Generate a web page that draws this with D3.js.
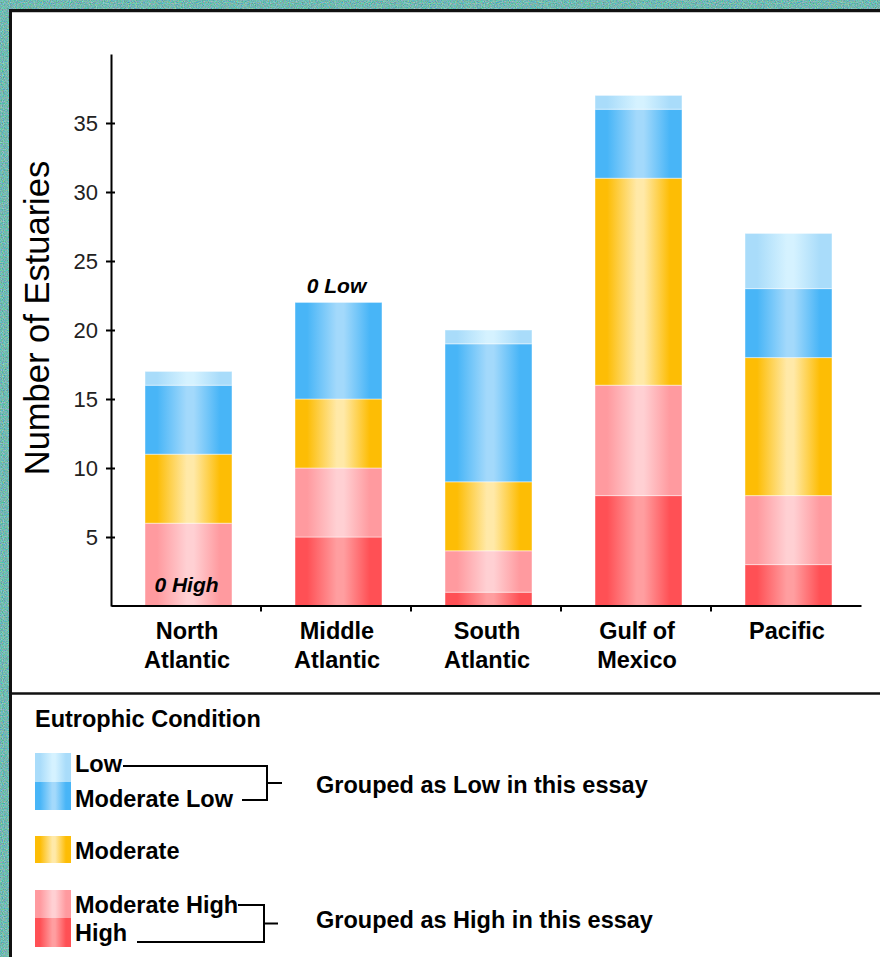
<!DOCTYPE html>
<html>
<head>
<meta charset="utf-8">
<script src="https://cdn.jsdelivr.net/npm/d3@7"></script>
<style>
  html, body { margin: 0; padding: 0; background: #fff; }
  svg { display: block; }
</style>
</head>
<body>
<svg id="chart" width="880" height="957"></svg>
<script>
// Estuaries by eutrophic condition, per region
const categories = ["North Atlantic", "Middle Atlantic", "South Atlantic", "Gulf of Mexico", "Pacific"];
const categoryLines = [["North", "Atlantic"], ["Middle", "Atlantic"], ["South", "Atlantic"], ["Gulf of", "Mexico"], ["Pacific"]];

const high         = [0, 5, 1, 8, 3];
const moderateHigh = [6, 5, 3, 8, 5];
const moderate     = [5, 5, 5, 15, 10];
const moderateLow  = [5, 7, 10, 5, 5];
const low          = [1, 0, 1, 1, 4];

const seriesKeys   = ["High", "Moderate High", "Moderate", "Moderate Low", "Low"];
const seriesValues = [high, moderateHigh, moderate, moderateLow, low];

const yTicks = [5, 10, 15, 20, 25, 30, 35];
const yMax = 40;

const yLabel = "Number of Estuaries";
const legendTitle = "Eutrophic Condition";
const groupNotes = ["Grouped as Low in this essay", "Grouped as High in this essay"];

// cylinder-like shading: saturated edges, pale centre
const shades = {
  "Low":           ["#a9dcfa", "#d5f2ff"],
  "Moderate Low":  ["#48b5f7", "#a3d9fb"],
  "Moderate":      ["#fdbd05", "#ffe9a8"],
  "Moderate High": ["#ff9a9f", "#ffd0d3"],
  "High":          ["#ff5055", "#ff9ea0"]
};

const table = categories.map((c, i) => {
  const row = { category: c };
  seriesKeys.forEach((k, j) => row[k] = seriesValues[j][i]);
  return row;
});

const svg = d3.select("#chart");
const W = 880, H = 957;

// ---- frame ----
const defs = svg.append("defs");
const grain = defs.append("filter").attr("id", "grain")
  .attr("x", 0).attr("y", 0).attr("width", "100%").attr("height", "100%")
  .attr("color-interpolation-filters", "sRGB");
grain.append("feTurbulence").attr("type", "fractalNoise")
  .attr("baseFrequency", 0.85).attr("numOctaves", 2).attr("seed", 7).attr("result", "n");
grain.append("feColorMatrix").attr("in", "n").attr("type", "matrix")
  .attr("values", "0.7 0 0 0 0.10  0 0.45 0 0 0.50  0 0 0.55 0 0.42  0 0 0 0 1");

svg.append("rect").attr("width", W).attr("height", H).attr("fill", "#fff");
svg.append("rect").attr("x", 0).attr("y", 0).attr("width", W).attr("height", 10).attr("filter", "url(#grain)");
svg.append("rect").attr("x", 0).attr("y", 0).attr("width", 10).attr("height", H).attr("filter", "url(#grain)");
svg.append("line").attr("x1", 9).attr("x2", W).attr("y1", 10.5).attr("y2", 10.5)
  .attr("stroke", "#111").attr("stroke-width", 3);
svg.append("line").attr("x1", 10.5).attr("x2", 10.5).attr("y1", 9).attr("y2", H)
  .attr("stroke", "#111").attr("stroke-width", 3);
svg.append("line").attr("x1", 12).attr("x2", W).attr("y1", 12.5).attr("y2", 12.5)
  .attr("stroke", "#c8c8c8").attr("stroke-width", 1);
// divider between plot and legend
svg.append("line").attr("x1", 10).attr("x2", W).attr("y1", 693.5).attr("y2", 693.5)
  .attr("stroke", "#111").attr("stroke-width", 2.5);

// ---- gradients ----
seriesKeys.forEach((k, i) => {
  const g = defs.append("linearGradient").attr("id", "shade" + i)
    .attr("x1", 0).attr("x2", 1).attr("y1", 0).attr("y2", 0);
  const [edge, mid] = shades[k];
  [[0, edge], [0.14, edge], [0.48, mid], [0.56, mid], [0.86, edge], [1, edge]].forEach(([o, c]) =>
    g.append("stop").attr("offset", o).attr("stop-color", c));
});

// ---- scales ----
const plot = { left: 111, right: 861, top: 54, bottom: 606 };
const x = d3.scaleBand().domain(categories).range([plot.left, plot.right]);
const y = d3.scaleLinear().domain([0, yMax]).range([plot.bottom, plot.top]);
const barW = 87, barShift = 2.5;
const barX = c => x(c) + (x.bandwidth() - barW) / 2 + barShift;

// ---- bars ----
const stacked = d3.stack().keys(seriesKeys)(table);
svg.append("g").selectAll("g").data(stacked).join("g")
  .attr("fill", (d, i) => `url(#shade${i})`)
  .selectAll("rect").data(d => d.filter(s => s[1] > s[0])).join("rect")
  .attr("x", d => barX(d.data.category))
  .attr("width", barW)
  .attr("y", d => y(d[1]))
  .attr("height", d => y(d[0]) - y(d[1]))
  .attr("stroke", "rgba(255,255,255,0.45)")
  .attr("stroke-width", 1);

// ---- axes ----
const yAxis = svg.append("g").attr("transform", `translate(${plot.left},0)`)
  .call(d3.axisLeft(y).tickValues(yTicks).tickSize(5).tickSizeOuter(0).tickPadding(8));
yAxis.select(".domain").attr("stroke", "#000").attr("stroke-width", 2);
yAxis.selectAll(".tick line").attr("x1", 4).attr("stroke", "#000").attr("stroke-width", 2);
yAxis.selectAll(".tick text").attr("font-family", "Liberation Sans, Arial, sans-serif")
  .attr("font-size", 22).attr("fill", "#222").attr("dy", "0.36em");

const xAxis = svg.append("g").attr("transform", `translate(0,${y(0) - 0.5})`)
  .call(d3.axisBottom(x).tickSize(0).tickSizeOuter(0).tickFormat(""));
xAxis.select(".domain").attr("stroke", "#000").attr("stroke-width", 2);
// separators between regions
xAxis.append("g").selectAll("line").data(categories.slice(1)).join("line")
  .attr("x1", d => x(d)).attr("x2", d => x(d))
  .attr("y1", 0).attr("y2", 6).attr("stroke", "#000").attr("stroke-width", 2);

// region labels
const labelFont = "Liberation Sans, Arial, sans-serif";
svg.append("g").selectAll("text").data(categories).join("text")
  .attr("x", c => x(c) + x.bandwidth() / 2 + 1)
  .attr("y", 639)
  .attr("text-anchor", "middle")
  .attr("font-family", labelFont).attr("font-weight", "bold").attr("font-size", 23.5)
  .attr("fill", "#000")
  .each(function (c, i) {
    d3.select(this).selectAll("tspan").data(categoryLines[i]).join("tspan")
      .attr("x", x(c) + x.bandwidth() / 2 + 1)
      .attr("dy", (d, j) => j === 0 ? 0 : 28.5)
      .text(d => d);
  });

// y axis title
svg.append("text")
  .attr("transform", `translate(49,318) rotate(-90)`)
  .attr("text-anchor", "middle")
  .attr("font-family", labelFont).attr("font-size", 34.5).attr("fill", "#000")
  .text(yLabel);

// zero-count notes: a missing top class is noted above the bar, a missing bottom class at its foot
const notes = [];
table.forEach(row => {
  const total = d3.sum(seriesKeys, k => row[k]);
  if (row["Low"] === 0) notes.push({ c: row.category, text: "0 Low", yv: y(total) - 9 });
  if (row["High"] === 0) notes.push({ c: row.category, text: "0 High", yv: y(0) - 14 });
});
svg.append("g").selectAll("text").data(notes).join("text")
  .attr("x", d => barX(d.c) + barW / 2 - 2)
  .attr("y", d => d.yv)
  .attr("text-anchor", "middle")
  .attr("font-family", labelFont).attr("font-weight", "bold").attr("font-style", "italic")
  .attr("font-size", 21).attr("fill", "#000")
  .text(d => d.text);

// ---- legend ----
const legend = svg.append("g");
legend.append("text").attr("x", 35).attr("y", 727)
  .attr("font-family", labelFont).attr("font-weight", "bold").attr("font-size", 23.5)
  .text(legendTitle);

// rows listed top to bottom
const legendRows = [
  { key: "Low",           top: 753, h: 29, base: 772 },
  { key: "Moderate Low",  top: 782, h: 28, base: 807 },
  { key: "Moderate",      top: 836, h: 27, base: 859 },
  { key: "Moderate High", top: 890, h: 28, base: 913 },
  { key: "High",          top: 918, h: 29, base: 941 }
];
legend.selectAll("rect").data(legendRows).join("rect")
  .attr("x", 35).attr("width", 36)
  .attr("y", d => d.top).attr("height", d => d.h)
  .attr("fill", d => `url(#shade${seriesKeys.indexOf(d.key)})`);
legend.selectAll("text.item").data(legendRows).join("text").attr("class", "item")
  .attr("x", 75).attr("y", d => d.base)
  .attr("font-family", labelFont).attr("font-weight", "bold").attr("font-size", 23.5)
  .attr("fill", "#000")
  .text(d => d.key);

// brackets joining paired classes
const brackets = [
  { x0top: 123, x0bot: 242, xv: 267, yTop: 766, yBot: 800, stub: 15, note: groupNotes[0], noteY: 793 },
  { x0top: 238, x0bot: 137, xv: 264, yTop: 905, yBot: 942, stub: 14, note: groupNotes[1], noteY: 928 }
];
brackets.forEach(b => {
  const p = d3.path();
  p.moveTo(b.x0top, b.yTop); p.lineTo(b.xv, b.yTop); p.lineTo(b.xv, b.yBot); p.lineTo(b.x0bot, b.yBot);
  const ym = (b.yTop + b.yBot) / 2;
  p.moveTo(b.xv, ym); p.lineTo(b.xv + b.stub, ym);
  legend.append("path").attr("d", p.toString()).attr("fill", "none")
    .attr("stroke", "#000").attr("stroke-width", 2);
  legend.append("text").attr("x", 316).attr("y", b.noteY)
    .attr("font-family", labelFont).attr("font-weight", "bold").attr("font-size", 23.5)
    .attr("fill", "#000").text(b.note);
});
</script>
</body>
</html>
